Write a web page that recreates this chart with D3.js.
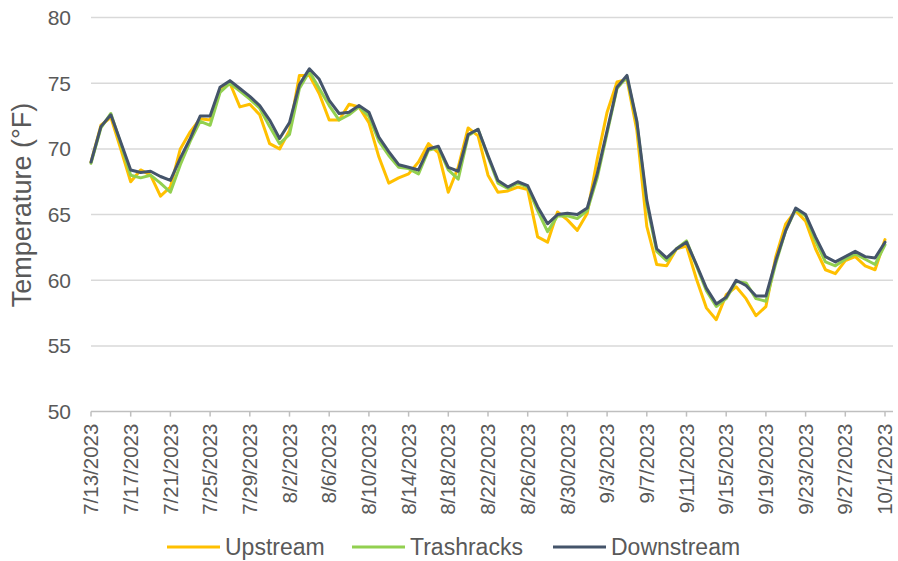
<!DOCTYPE html>
<html><head><meta charset="utf-8">
<script src="https://cdn.jsdelivr.net/npm/d3@7"></script>
<style>body{margin:0;background:#fff}svg{display:block}text{font-family:"Liberation Sans",Arial,sans-serif;fill:#595959}</style>
</head><body><svg id="c" width="898" height="561"></svg>
<script>
const startDate = "2023-07-13";
const seriesNames = ["Upstream","Trashracks","Downstream"];
const seriesColors = ["#FFC000","#92D050","#44546A"];
const upstream = [69.0,71.8,72.4,70.0,67.5,68.4,68.0,66.4,67.1,70.0,71.3,72.3,72.2,74.5,75.0,73.2,73.4,72.6,70.4,70.0,71.4,75.6,75.6,74.2,72.2,72.2,73.4,73.2,72.0,69.4,67.4,67.8,68.1,69.0,70.4,69.7,66.7,68.6,71.6,71.0,68.0,66.7,66.8,67.1,66.9,63.3,62.9,65.2,64.6,63.8,65.1,69.2,72.8,75.1,75.3,71.4,64.1,61.2,61.1,62.4,62.6,60.1,57.9,57.0,58.9,59.5,58.6,57.3,58.0,61.8,64.3,65.3,64.5,62.4,60.8,60.5,61.5,61.8,61.1,60.8,63.1];
const trashracks = [68.9,71.6,72.7,70.4,68.0,67.8,68.0,67.4,66.7,68.8,70.6,72.1,71.8,74.3,75.0,74.4,73.8,73.1,71.7,70.4,71.1,74.6,75.9,74.6,73.3,72.2,72.6,73.2,72.5,70.6,69.5,68.6,68.5,68.1,69.9,70.1,68.4,67.7,71.0,71.5,69.4,67.4,67.0,67.4,67.1,65.3,63.7,64.9,64.9,64.7,65.3,67.8,71.2,74.6,75.5,72.0,65.8,62.2,61.5,62.4,63.0,61.1,59.2,58.0,58.6,59.9,59.8,58.6,58.4,61.3,63.8,65.4,64.9,63.0,61.4,61.1,61.6,62.0,61.6,61.2,62.7];
const downstream = [69.0,71.7,72.6,70.5,68.4,68.2,68.3,67.9,67.6,69.3,70.8,72.5,72.5,74.7,75.2,74.6,74.0,73.3,72.2,70.8,72.0,74.9,76.1,75.3,73.7,72.7,72.8,73.3,72.8,70.9,69.8,68.8,68.6,68.4,70.0,70.2,68.6,68.3,71.1,71.5,69.5,67.6,67.1,67.5,67.2,65.6,64.3,65.0,65.1,65.0,65.5,68.1,71.4,74.7,75.6,72.1,66.1,62.4,61.7,62.4,62.9,61.2,59.4,58.2,58.7,60.0,59.6,58.8,58.8,61.5,63.8,65.5,65.0,63.3,61.8,61.4,61.8,62.2,61.8,61.7,62.9];
const yTicks = [50,55,60,65,70,75,80];
const tickEvery = 4;

const svg = d3.select("#c");
const parse = d3.timeParse("%Y-%m-%d");
const d0 = parse(startDate);
const dates = upstream.map((_,i)=>d3.timeDay.offset(d0,i));
const fmt = d=>`${d.getMonth()+1}/${d.getDate()}/${d.getFullYear()}`;

const x = d3.scaleTime().domain([dates[0],dates[dates.length-1]]).range([91,885]);
const y = d3.scaleLinear().domain([50,80]).range([411.6,17.6]);

svg.append("g").selectAll("line").data(yTicks.filter(v=>v>50)).join("line")
  .attr("x1",91).attr("x2",893).attr("y1",d=>y(d)).attr("y2",d=>y(d))
  .attr("stroke","#D9D9D9").attr("stroke-width",1.5);
svg.append("g").selectAll("text").data(yTicks).join("text")
  .attr("x",71).attr("y",d=>y(d)).attr("dy","0.35em").attr("text-anchor","end")
  .attr("font-size",21).text(d=>d);
const tickDates = dates.filter((_,i)=>i%tickEvery===0);
svg.append("line").attr("x1",91).attr("x2",893).attr("y1",y(50)).attr("y2",y(50))
  .attr("stroke","#BFBFBF").attr("stroke-width",1.5);
svg.append("g").selectAll("line").data(tickDates).join("line")
  .attr("x1",d=>x(d)).attr("x2",d=>x(d)).attr("y1",y(50)).attr("y2",y(50)+5)
  .attr("stroke","#BFBFBF").attr("stroke-width",1.5);
svg.append("g").selectAll("text").data(tickDates).join("text")
  .attr("transform",d=>`translate(${x(d)},${y(50)+12}) rotate(-90)`)
  .attr("text-anchor","end").attr("dy","0.35em").attr("font-size",20.5).text(fmt);
svg.append("text").attr("transform","translate(22,205) rotate(-90)")
  .attr("text-anchor","middle").attr("dy","0.35em").attr("font-size",27).text("Temperature (°F)");
const allSeries = [upstream,trashracks,downstream];
const line = d3.line().x((d,i)=>x(dates[i])).y(d=>y(d));
svg.append("g").selectAll("path").data(allSeries).join("path")
  .attr("d",line).attr("fill","none").attr("stroke",(d,i)=>seriesColors[i])
  .attr("stroke-width",3).attr("stroke-linejoin","round").attr("stroke-linecap","round");
const legX = [167,352,553];
const lg = svg.append("g").selectAll("g").data(seriesNames).join("g")
  .attr("transform",(d,i)=>`translate(${legX[i]},547)`);
lg.append("line").attr("x1",0).attr("x2",53).attr("stroke",(d,i)=>seriesColors[i]).attr("stroke-width",3);
lg.append("text").attr("x",58).attr("dy","0.35em").attr("font-size",23).text(d=>d);
</script></body></html>
